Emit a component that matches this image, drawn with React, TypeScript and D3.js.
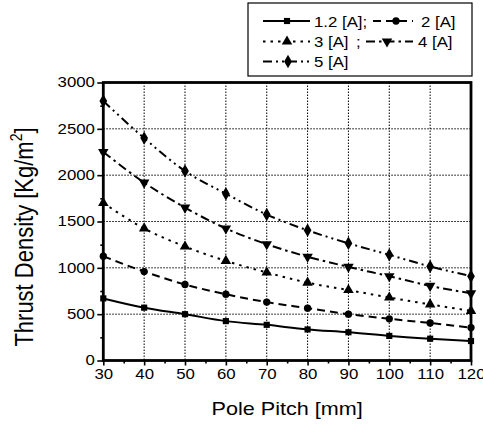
import React, { useEffect, useRef } from 'react';
import * as d3 from 'd3';

// pole pitch [mm]
const poles = [30, 40, 50, 60, 70, 80, 90, 100, 110, 120];

// thrust density [Kg/m^2] per current
const s12A = [670, 570, 500, 425, 385, 335, 305, 265, 235, 210];
const s2A = [1125, 960, 820, 715, 630, 565, 500, 450, 405, 355];
const s3A = [1700, 1425, 1230, 1075, 950, 840, 760, 680, 605, 535];
const s4A = [2250, 1920, 1650, 1425, 1255, 1120, 1010, 910, 805, 725];
const s5A = [2800, 2400, 2045, 1800, 1575, 1405, 1265, 1140, 1015, 910];

const seriesLabels = ['1.2 [A]', '2 [A]', '3 [A]', '4 [A]', '5 [A]'];
const yTicks = [0, 500, 1000, 1500, 2000, 2500, 3000];
const yMinor = [250, 750, 1250, 1750, 2250, 2750];
const xMinor = [35, 45, 55, 65, 75, 85, 95, 105, 115];

const FONT = 'Arial, "Liberation Sans", Helvetica, sans-serif';
const SX = 1.2; // the scan is a bit wider than tall

export default function App() {
    const ref = useRef<SVGSVGElement>(null);

    useEffect(() => {
        const width = 483;
        const height = 424;
        const left = 103.3, right = 471, top = 82.5, bottom = 360.5;

        const svg = d3.select(ref.current);
        svg.selectAll('*').remove();
        svg.attr('width', width).attr('height', height);

        svg.append('rect').attr('width', width).attr('height', height).attr('fill', '#fff');

        const x = d3.scaleLinear().domain([30, 120]).range([left, right]);
        const y = d3.scaleLinear().domain([0, 3000]).range([bottom, top]);

        const stretchText = (
            g: any, tx: number, ty: number, str: string, size: number, anchor = 'start'
        ) => {
            return g.append('g')
                .attr('transform', `translate(${tx},${ty}) scale(${SX},1)`)
                .append('text')
                .attr('font-family', FONT)
                .attr('font-size', size)
                .attr('text-anchor', anchor)
                .attr('fill', '#000')
                .text(str);
        };

        // grid
        const grid = svg.append('g')
            .attr('stroke', '#000')
            .attr('stroke-width', 1)
            .attr('stroke-dasharray', '1.5,1.5');
        grid.selectAll('.gx')
            .data(poles.slice(1, -1))
            .enter()
            .append('line')
            .attr('x1', d => x(d)).attr('x2', d => x(d))
            .attr('y1', top).attr('y2', bottom);
        grid.selectAll('.gy')
            .data(yTicks.slice(1, -1))
            .enter()
            .append('line')
            .attr('x1', left).attr('x2', right)
            .attr('y1', d => y(d)).attr('y2', d => y(d));

        // axes
        const yAxis = svg.append('g')
            .attr('transform', `translate(${left},0)`)
            .call(d3.axisLeft(y).tickValues(yTicks).tickSize(6).tickPadding(1).tickFormat(d3.format('d')));
        const yMin = svg.append('g')
            .attr('transform', `translate(${left},0)`)
            .call(d3.axisLeft(y).tickValues(yMinor).tickSize(3).tickFormat(() => ''));
        const xAxis = svg.append('g')
            .attr('transform', `translate(0,${bottom})`)
            .call(d3.axisBottom(x).tickValues(poles).tickSize(5).tickPadding(4).tickFormat(d3.format('d')));
        const xMin = svg.append('g')
            .attr('transform', `translate(0,${bottom})`)
            .call(d3.axisBottom(x).tickValues(xMinor).tickSize(3).tickFormat(() => ''));

        [yAxis, yMin, xAxis, xMin].forEach(a => {
            a.select('.domain').remove();
            a.selectAll('line').attr('stroke', '#000').attr('stroke-width', 1.6);
            a.selectAll('text')
                .attr('font-family', FONT)
                .attr('font-size', 14)
                .attr('fill', '#000')
                .attr('transform', `scale(${SX},1)`);
        });

        // frame
        svg.append('rect')
            .attr('x', left).attr('y', top)
            .attr('width', right - left).attr('height', bottom - top)
            .attr('fill', 'none')
            .attr('stroke', '#000')
            .attr('stroke-width', 2.8);

        // series
        const allSeries = [s12A, s2A, s3A, s4A, s5A];
        const dashes = ['none', '8,5', '2.5,5', '9,4,2.5,4', '9,4,2,4,2,4'];
        const symbols = [
            d3.symbol().type(d3.symbolSquare).size(38),
            d3.symbol().type(d3.symbolCircle).size(42),
            d3.symbol().type(d3.symbolTriangle).size(48),
            d3.symbol().type(d3.symbolTriangle).size(48),
            d3.symbol().type(d3.symbolDiamond).size(52)
        ];
        const rot = [0, 0, 0, 180, 0];

        const lineFunc = d3.line<number>()
            .x((d, i) => x(poles[i]))
            .y(d => y(d))
            .curve(d3.curveMonotoneX);

        allSeries.forEach((vals, si) => {
            const g = svg.append('g');
            g.append('path')
                .attr('d', lineFunc(vals))
                .attr('fill', 'none')
                .attr('stroke', '#000')
                .attr('stroke-width', 2)
                .attr('stroke-dasharray', dashes[si]);
            g.selectAll('.m')
                .data(vals)
                .enter()
                .append('path')
                .attr('d', symbols[si]() as string)
                .attr('transform', (d, i) => `translate(${x(poles[i])},${y(d)}) rotate(${rot[si]})`)
                .attr('fill', '#000');
        });

        // axis titles
        stretchText(svg, (left + right) / 2, 415, 'Pole Pitch [mm]', 18, 'middle');
        const yt = svg.append('g')
            .attr('transform', `translate(33,237) scale(${SX},1) rotate(-90)`)
            .append('text')
            .attr('font-family', FONT)
            .attr('font-size', 22)
            .attr('text-anchor', 'middle')
            .attr('fill', '#000');
        yt.append('tspan').text('Thrust Density [Kg/m');
        yt.append('tspan').attr('font-size', 14).attr('dy', -9).text('2');
        yt.append('tspan').attr('dy', 9).text(']');

        // legend
        svg.append('rect')
            .attr('x', 248).attr('y', 3)
            .attr('width', 224).attr('height', 73)
            .attr('fill', '#fff')
            .attr('stroke', '#000')
            .attr('stroke-width', 1.2);

        const legendItems = [
            { s: 0, x1: 263, x2: 310, m: 287, cy: 21, tx: 314, label: seriesLabels[0] + ';' },
            { s: 1, x1: 373, x2: 413, m: 396, cy: 21, tx: 421, label: seriesLabels[1] },
            { s: 2, x1: 263, x2: 310, m: 287, cy: 41.5, tx: 314, label: seriesLabels[2] },
            { s: 3, x1: 366, x2: 413, m: 387, cy: 41.5, tx: 418, label: seriesLabels[3] },
            { s: 4, x1: 263, x2: 310, m: 288, cy: 61.5, tx: 314, label: seriesLabels[4] }
        ];
        legendItems.forEach(it => {
            svg.append('line')
                .attr('x1', it.x1).attr('x2', it.x2)
                .attr('y1', it.cy).attr('y2', it.cy)
                .attr('stroke', '#000')
                .attr('stroke-width', 2)
                .attr('stroke-dasharray', dashes[it.s]);
            svg.append('path')
                .attr('d', symbols[it.s]() as string)
                .attr('transform', `translate(${it.m},${it.cy}) rotate(${rot[it.s]})`)
                .attr('fill', '#000');
            stretchText(svg, it.tx, it.cy + 5.5, it.label, 14);
        });
        stretchText(svg, 356, 41.5 + 5.5, ';', 14);
    }, []);

    return (
        <svg ref={ref} style={{ position: 'absolute', left: 0, top: 0, display: 'block' }}></svg>
    );
}
